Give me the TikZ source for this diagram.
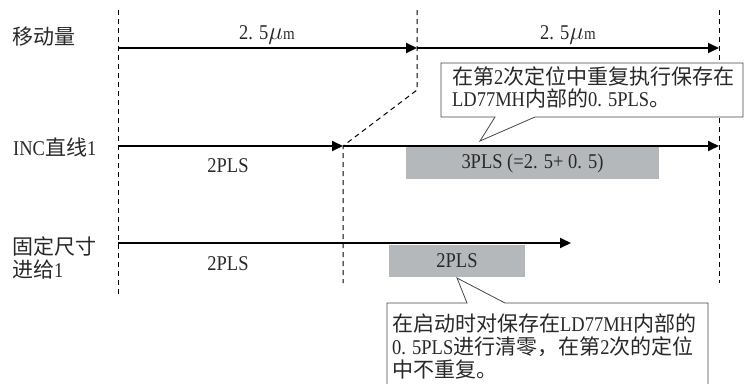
\documentclass[tikz,border=0pt]{standalone}
\usepackage{fontspec}
\setmainfont[FakeStretch=0.88]{Liberation Serif}
\newfontfamily\cjk{Noto Sans CJK SC}
\usetikzlibrary{arrows.meta}
\definecolor{txt}{RGB}{40,40,40}
\definecolor{boxgray}{RGB}{181,184,187}
\definecolor{callline}{RGB}{70,70,70}
\newcommand{\micro}{{\fontsize{25}{25}\selectfont$\mu$}{\fontsize{17}{17}\selectfont m}}
\begin{document}
\begin{tikzpicture}[x=1pt,y=-1pt,
  font=\fontsize{21}{23}\selectfont,
  guide/.style={dash pattern=on 5pt off 4pt, line width=1pt, black},
  flow/.style={line width=1.8pt, black, -{Triangle[length=11pt,width=10pt]}},
  lab/.style={anchor=west, inner sep=0pt, text=txt},
  ctext/.style={anchor=center, inner sep=0pt, text=txt},
  graybox/.style={fill=boxgray, inner sep=0pt, text=txt},
  callout/.style={draw=callline, line width=0.8pt, fill=white}]
\useasboundingbox (0,0) rectangle (744,383);
\clip (0,0) rectangle (744,383);
% key points
\coordinate (a0) at (118,48);
\coordinate (a1) at (417,48);
\coordinate (a2) at (719,48);
\coordinate (b0) at (118,146);
\coordinate (b1) at (343,146);
\coordinate (b2) at (719,146);
\coordinate (c0) at (118,243);
\coordinate (c1) at (571,243);
\coordinate (d0t) at (118,10);
\coordinate (d0b) at (118,295);
\coordinate (d1t) at (417,10);
\coordinate (d1b) at (417,90);
\coordinate (d2b) at (343,283);
\coordinate (d3t) at (719,10);
\coordinate (d3b) at (719,283);
% dashed guides
\draw[guide] (d0t) -- (d0b);
\draw[guide] (d1t) -- (d1b) -- (b1) -- (d2b);
\draw[guide] (d3t) -- (d3b);
% gray boxes
\node[graybox, minimum width=253pt, minimum height=32pt] (g1) at (532.5,163) {3PLS (=2. 5+ 0. 5)};
\node[graybox, minimum width=136pt, minimum height=32pt] (g2) at (457,261) {2PLS};
% arrows
\draw[flow] (a0) -- (a1);
\draw[flow] (a1) -- (a2);
\draw[flow] (b0) -- (b1);
\draw[flow] (b1) -- (b2);
\draw[flow] (c0) -- (c1);
% labels
\node[lab] (lbl1) at (12,37) {\cjk 移动量};
\node[ctext] (m1) at (267,35) {2. 5\micro};
\node[ctext] (m2) at (568,35) {2. 5\micro};
\node[lab] (lbl2) at (13,147) {INC{\cjk 直线}1};
\node[ctext] (p1) at (228,166) {2PLS};
\node[lab] (lbl3a) at (12,246) {\cjk 固定尺寸};
\node[lab] (lbl3b) at (12,270) {{\cjk 进给}1};
\node[ctext] (p2) at (228,264) {2PLS};
% callout 1
\draw[callout] (441,63) -- (743,63) -- (743,117) -- (535,117) -- (480,141) -- (495,117) -- (441,117) -- cycle;
\node[lab] (t1a) at (452,76) {{\cjk 在第}2{\cjk 次定位中重复执行保存在}};
\node[lab] (t1b) at (452,98) {LD77MH{\cjk 内部的}0. 5PLS{\cjk 。}};
% callout 2
\draw[callout] (387,390) -- (387,303) -- (467,303) -- (457,278) -- (505,303) -- (708,303) -- (708,390);
\node[lab] (t2a) at (392,323) {{\cjk 在启动时对保存在}LD77MH{\cjk 内部的}};
\node[lab] (t2b) at (392,347) {0. 5PLS{\cjk 进行清零，在第}2{\cjk 次的定位}};
\node[lab] (t2c) at (392,370) {\cjk 中不重复。};
\end{tikzpicture}
\end{document}
